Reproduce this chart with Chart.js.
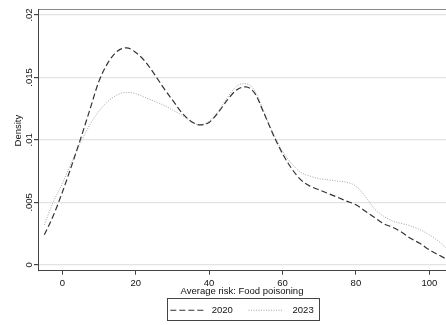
<!DOCTYPE html>
<html lang="en">
<head>
    <meta charset="UTF-8">
    <title>Average risk: Food poisoning - density</title>
    <script src="https://cdn.jsdelivr.net/npm/chart.js"></script>
    <style>
        body {
            margin: 0;
            background: #fff;
        }
        canvas {
            display: block;
        }
    </style>
</head>
<body>
    <canvas id="densityChart" width="446" height="325"></canvas>

    <script>
        // Values
        const riskValues = [-4.9, -2.5, 0, 2.5, 5, 7.5, 10, 12.5, 15, 17.5, 20, 22.5, 25, 27.5, 30, 32.5,
            35, 37.5, 40, 42.5, 45, 47.5, 50, 52.5, 55, 57.5, 60, 62.5, 65, 67.5, 70, 72.5, 75, 77.5,
            80, 82.5, 85, 87.5, 90, 92.5, 95, 97.5, 100, 102.5, 105];
        const density2020 = [0.0024, 0.0039, 0.0058, 0.0079, 0.0101, 0.0124, 0.0147, 0.0162, 0.0171, 0.01737,
            0.0170, 0.0163, 0.0153, 0.0142, 0.0132, 0.0122, 0.0115, 0.0112, 0.0114, 0.0122, 0.0132, 0.0140,
            0.01425, 0.0137, 0.0121, 0.0104, 0.0089, 0.0077, 0.0068, 0.0063, 0.0060, 0.0057, 0.0054, 0.0051,
            0.0048, 0.0043, 0.0038, 0.0033, 0.0030, 0.0026, 0.0021, 0.0017, 0.0012, 0.0008, 0.0004];
        const density2023 = [0.0032, 0.0050, 0.0065, 0.0082, 0.0098, 0.0112, 0.0123, 0.0131, 0.0136, 0.0138,
            0.0137, 0.0134, 0.0131, 0.0128, 0.0124, 0.0120, 0.0115, 0.0112, 0.0115, 0.0123, 0.0134, 0.0143,
            0.0145, 0.0139, 0.0122, 0.0105, 0.0091, 0.0081, 0.0074, 0.0071, 0.0069, 0.0068, 0.0067, 0.0066,
            0.0063, 0.0055, 0.0045, 0.0039, 0.0035, 0.0033, 0.0031, 0.0028, 0.0024, 0.0019, 0.0012];
        const xTicks = [0, 20, 40, 60, 80, 100];
        const yTicks = [0, 0.005, 0.01, 0.015, 0.02];
        const yTickLabels = ['0', '.005', '.01', '.015', '.02'];

        Chart.defaults.font.family = '"Liberation Sans", Arial, sans-serif';
        Chart.defaults.font.size = 9.5;
        Chart.defaults.color = '#111';

        const toPoints = ys => riskValues.map((x, i) => ({ x: x, y: ys[i] }));

        // box round the legend, like Stata draws it
        const legendFrame = {
            id: 'legendFrame',
            afterDraw(chart) {
                const boxes = chart.legend && chart.legend.legendHitBoxes;
                if (!boxes || !boxes.length) return;
                const first = boxes[0];
                const last = boxes[boxes.length - 1];
                const ctx = chart.ctx;
                ctx.save();
                ctx.strokeStyle = '#444';
                ctx.lineWidth = 1;
                ctx.strokeRect(Math.round(first.left - 3) + 0.5, Math.round(first.top - 8) + 0.5,
                    Math.round(last.left + last.width - first.left + 8.5), Math.round(first.height + 12));
                ctx.restore();
            }
        };

        // legend samples should use the line's dash, not the point style
        function legendItems(chart) {
            return Chart.defaults.plugins.legend.labels.generateLabels(chart).map((item, i) => {
                const ds = chart.data.datasets[item.datasetIndex];
                item.lineDash = ds.borderDash;
                item.lineWidth = ds.borderWidth;
                item.strokeStyle = ds.borderColor;
                item.text = i === 0 ? ' ' + item.text + '   ' : '  ' + item.text;
                return item;
            });
        }

        new Chart(document.getElementById('densityChart').getContext('2d'), {
            type: 'line',
            data: {
                datasets: [
                    {
                        label: '2020',
                        data: toPoints(density2020),
                        borderColor: '#333',
                        borderWidth: 1.2,
                        borderDash: [6, 3],
                        pointRadius: 0,
                        cubicInterpolationMode: 'monotone',
                        fill: false
                    },
                    {
                        label: '2023',
                        data: toPoints(density2023),
                        borderColor: '#a3a3a3',
                        borderWidth: 1,
                        borderDash: [1, 1.5],
                        pointRadius: 0,
                        cubicInterpolationMode: 'monotone',
                        fill: false
                    }
                ]
            },
            options: {
                responsive: false,
                animation: false,
                layout: { padding: 0 },
                plugins: {
                    tooltip: { enabled: false },
                    legend: {
                        position: 'bottom',
                        fullSize: false,
                        labels: {
                            usePointStyle: true,
                            pointStyle: 'line',
                            pointStyleWidth: 34,
                            padding: 7.75,
                            color: '#111',
                            generateLabels: legendItems
                        }
                    }
                },
                scales: {
                    x: {
                        type: 'linear',
                        position: 'bottom',
                        min: -6.62,
                        max: 104.55,
                        afterBuildTicks: s => { s.ticks = xTicks.map(v => ({ value: v })); },
                        afterFit: s => { s.height = 27; },
                        ticks: {
                            padding: 3,
                            maxRotation: 0,
                            callback: v => String(v)
                        },
                        grid: {
                            drawOnChartArea: false,
                            tickLength: 4,
                            tickColor: '#444'
                        },
                        border: { color: '#444', width: 1 },
                        title: {
                            display: true,
                            text: 'Average risk: Food poisoning',
                            padding: { top: 0, bottom: 1 }
                        }
                    },
                    xTop: {
                        type: 'linear',
                        position: 'top',
                        afterFit: s => { s.height = 9; },
                        ticks: { display: false },
                        grid: { display: false },
                        border: { color: '#8a8a8a', width: 1 }
                    },
                    y: {
                        type: 'linear',
                        position: 'left',
                        min: -0.000476,
                        max: 0.020476,
                        afterBuildTicks: s => { s.ticks = yTicks.map(v => ({ value: v })); },
                        afterFit: s => { s.width = 38; },
                        ticks: {
                            minRotation: 90,
                            maxRotation: 90,
                            crossAlign: 'center',
                            padding: -4.75,
                            callback: (v, i) => yTickLabels[i]
                        },
                        grid: {
                            color: '#e3e3e3',
                            lineWidth: 1.2,
                            tickLength: 4,
                            tickColor: '#444'
                        },
                        border: { color: '#444', width: 1 },
                        title: {
                            display: true,
                            text: '       Density',
                            padding: { top: 12.3, bottom: 0 }
                        }
                    }
                }
            },
            plugins: [legendFrame]
        });
    </script>
</body>
</html>
